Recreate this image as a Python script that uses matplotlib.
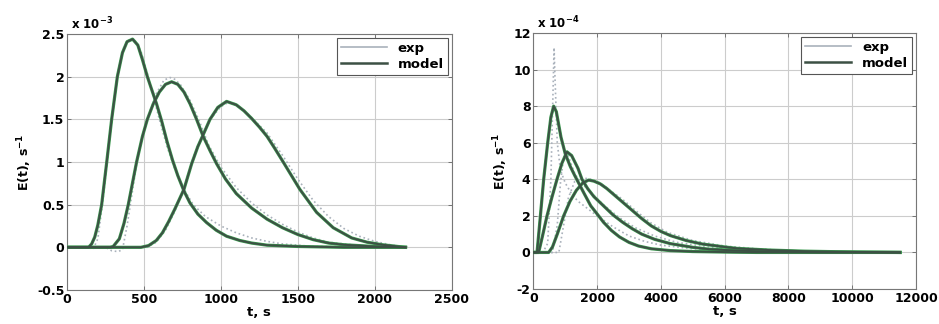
import numpy as np
import matplotlib
matplotlib.use("Agg")
from matplotlib import pyplot as plt
from matplotlib.ticker import FuncFormatter

plt.rcParams['font.family'] = ['DejaVu Sans']
plt.rcParams['axes.unicode_minus'] = False
plt.rcParams['mathtext.default'] = 'bf'

# ---- left panel, E(t) in 1e-3 s^-1 ----
tM1 = [0, 120, 140, 160, 180, 200, 225, 258, 290, 327, 360, 390, 426, 460, 490, 522, 550, 582, 615, 650, 686, 720, 760, 799, 850, 907, 970, 1037, 1123, 1200, 1300, 1500, 1800, 2200]
eM1 = [0, 0, 0.0, 0.04, 0.12, 0.26, 0.5, 1.0, 1.5, 2.0, 2.28, 2.41, 2.44, 2.37, 2.2, 2.0, 1.85, 1.68, 1.48, 1.24, 1.02, 0.84, 0.66, 0.52, 0.39, 0.29, 0.2, 0.13, 0.08, 0.05, 0.025, 0.01, 0, 0]
tM2 = [0, 280, 300, 340, 370, 398, 425, 452, 490, 522, 560, 600, 640, 680, 720, 760, 800, 842, 885, 930, 972, 1030, 1100, 1200, 1300, 1400, 1500, 1600, 1700, 1800, 2000, 2200]
eM2 = [0, 0, 0.01, 0.1, 0.28, 0.5, 0.75, 1.0, 1.3, 1.5, 1.68, 1.82, 1.91, 1.94, 1.91, 1.82, 1.68, 1.5, 1.3, 1.13, 0.98, 0.8, 0.63, 0.46, 0.33, 0.23, 0.15, 0.09, 0.05, 0.03, 0.01, 0]
tM3 = [0, 480, 530, 580, 620, 660, 701, 760, 810, 850, 885, 929, 980, 1037, 1100, 1150, 1200, 1250, 1300, 1350, 1405, 1513, 1622, 1730, 1850, 1950, 2050, 2200]
eM3 = [0, 0, 0.02, 0.08, 0.17, 0.3, 0.45, 0.68, 0.98, 1.18, 1.32, 1.5, 1.64, 1.71, 1.67, 1.6, 1.51, 1.41, 1.3, 1.16, 1.0, 0.68, 0.41, 0.23, 0.11, 0.06, 0.03, 0]

tX1 = [0, 130, 170, 200, 230, 260, 295, 330, 370, 410, 440, 480, 520, 560, 600, 650, 700, 760, 820, 900, 1000, 1100, 1200, 1300, 1400, 1600, 2200]
eX1 = [0, 0, -0.02, 0.1, 0.5, 1.0, 1.55, 2.05, 2.35, 2.45, 2.43, 2.3, 2.05, 1.78, 1.5, 1.18, 0.92, 0.68, 0.5, 0.36, 0.25, 0.17, 0.11, 0.07, 0.04, 0.01, 0]
tX2 = [0, 250, 290, 330, 360, 390, 420, 450, 490, 530, 580, 630, 670, 700, 740, 800, 860, 920, 1000, 1100, 1200, 1300, 1400, 1500, 1600, 1700, 1900, 2200]
eX2 = [0, 0, -0.04, -0.05, -0.03, 0.25, 0.6, 0.95, 1.3, 1.55, 1.8, 1.96, 1.99, 1.97, 1.9, 1.72, 1.48, 1.2, 0.94, 0.7, 0.52, 0.38, 0.27, 0.18, 0.11, 0.06, 0.02, 0]
tX3 = [0, 520, 580, 640, 700, 760, 820, 880, 940, 1000, 1050, 1100, 1200, 1300, 1400, 1500, 1600, 1700, 1800, 1900, 2000, 2100, 2200]
eX3 = [0, 0, 0.06, 0.2, 0.42, 0.7, 1.05, 1.32, 1.52, 1.65, 1.7, 1.68, 1.52, 1.34, 1.08, 0.8, 0.55, 0.36, 0.22, 0.13, 0.07, 0.03, 0]

# ---- right panel, E(t) in 1e-4 s^-1 ----
tMA = [0, 115, 200, 324, 450, 550, 637, 720, 867, 1000, 1159, 1300, 1420, 1600, 1800, 2047, 2200, 2450, 2700, 3000, 3300, 3700, 4300, 5000, 6000, 7000, 11500]
eMA = [0, 0, 1.6, 4.0, 6.0, 7.4, 8.0, 7.7, 6.3, 5.4, 4.7, 4.2, 3.8, 3.2, 2.55, 2.0, 1.65, 1.2, 0.85, 0.55, 0.35, 0.2, 0.1, 0.05, 0.02, 0, 0]
tMB = [0, 167, 300, 428, 580, 741, 900, 1055, 1200, 1400, 1525, 1700, 1900, 2200, 2500, 2800, 3100, 3400, 3800, 4300, 5000, 5500, 6400, 7500, 9000, 11500]
eMB = [0, 0, 1.0, 2.0, 3.0, 4.0, 4.9, 5.5, 5.3, 4.6, 4.0, 3.5, 3.05, 2.55, 2.05, 1.65, 1.3, 1.0, 0.72, 0.48, 0.28, 0.18, 0.1, 0.04, 0.01, 0]
tMC = [0, 480, 600, 750, 950, 1150, 1350, 1550, 1734, 1900, 2100, 2300, 2500, 2800, 3100, 3400, 3700, 4000, 4300, 4800, 5300, 6000, 6400, 7400, 8500, 9500, 10500, 11500]
eMC = [0, 0, 0.3, 1.0, 2.0, 2.8, 3.4, 3.8, 3.96, 3.9, 3.75, 3.5, 3.2, 2.75, 2.3, 1.85, 1.45, 1.15, 0.92, 0.65, 0.46, 0.3, 0.22, 0.13, 0.07, 0.04, 0.02, 0]

tXA = [0, 300, 450, 550, 620, 650, 680, 750, 850, 1000, 1200, 1400, 1700, 2000, 2500, 3000, 3500, 4000, 5000, 6000, 7000, 9000, 11500]
eXA = [0, 0, 0.5, 4, 9, 11.2, 9.5, 6, 4.5, 3.8, 3.2, 2.8, 2.4, 2.0, 1.4, 0.9, 0.6, 0.4, 0.2, 0.1, 0.05, 0.02, 0]
tXB = [0, 600, 750, 850, 950, 1050, 1150, 1300, 1500, 1800, 2200, 2700, 3200, 3800, 4500, 5500, 6500, 8000, 11500]
eXB = [0, 0, 1.5, 3.8, 5.2, 5.6, 5.0, 4.3, 3.8, 3.3, 2.6, 1.9, 1.35, 0.9, 0.55, 0.3, 0.15, 0.06, 0]
tXC = [0, 800, 900, 1000, 1100, 1300, 1500, 1800, 2100, 2400, 2800, 3200, 3700, 4200, 5000, 6000, 7000, 8000, 9000, 11500]
eXC = [0, 0, 1.0, 2.0, 3.0, 3.9, 4.1, 4.0, 3.8, 3.4, 2.9, 2.3, 1.6, 1.1, 0.65, 0.35, 0.2, 0.1, 0.05, 0]

expColor = '#a9b1bb'
modelColor = '#3c5044'
greenColor = '#3c9a50'


def drawPanel(ax, modelList, expList, xMax, xStep, yMin, yMax, yStep, exponent):
    for t, e in expList:
        ax.plot(t, e, color=expColor, linestyle=':', linewidth=1.2, zorder=2)
    for t, e in modelList:
        ax.plot(t, e, color=greenColor, linewidth=2.3, zorder=3)
        ax.plot(t, e, color=modelColor, linewidth=1.4, zorder=4)
    ax.set_xlim(0, xMax)
    ax.set_ylim(yMin, yMax)
    ax.set_xticks(np.arange(0, xMax + 1, xStep))
    ax.set_yticks(np.arange(yMin, yMax + 0.001, yStep))
    ax.xaxis.set_major_formatter(FuncFormatter(lambda v, p: '%g' % v))
    ax.yaxis.set_major_formatter(FuncFormatter(lambda v, p: '%g' % v))
    ax.tick_params(direction='in', top=True, right=True, length=3, width=0.6,
                   labelsize=9, pad=2, color='#666666')
    for lbl in ax.get_xticklabels() + ax.get_yticklabels():
        lbl.set_fontweight('bold')
    ax.grid(True, color='#cccccc', linestyle='-', linewidth=0.8)
    ax.set_axisbelow(True)
    for sp in ax.spines.values():
        sp.set_color('#777777')
        sp.set_linewidth(0.8)
    ax.set_xlabel('t, s', fontweight='bold', fontsize=9.5, labelpad=0)
    ax.set_ylabel('E(t), s$^{-1}$', fontweight='bold', fontsize=9, labelpad=2)
    ax.text(0.01, 1.005, 'x 10$^{%d}$' % exponent, transform=ax.transAxes,
            fontsize=8.5, fontweight='bold', va='bottom', ha='left')
    hExp, = ax.plot([], [], color=expColor, linewidth=1.2)
    hMod, = ax.plot([], [], color=modelColor, linewidth=1.8)
    leg = ax.legend([hExp, hMod], ['exp', 'model'], loc='upper right',
                    prop={'weight': 'bold', 'size': 9.5}, fancybox=False,
                    handlelength=3.5, borderpad=0.3, labelspacing=0.2,
                    borderaxespad=0.3, framealpha=1)
    leg.get_frame().set_edgecolor('#555555')
    leg.get_frame().set_linewidth(0.8)


fig = plt.figure(figsize=(9.39, 3.24), dpi=100)
axL = fig.add_axes([0.0714, 0.105, 0.4096, 0.79])
axR = fig.add_axes([0.568, 0.108, 0.4075, 0.79])

drawPanel(axL, [(tM1, eM1), (tM2, eM2), (tM3, eM3)],
          [(tX1, eX1), (tX2, eX2), (tX3, eX3)],
          2500, 500, -0.5, 2.5, 0.5, -3)
drawPanel(axR, [(tMA, eMA), (tMB, eMB), (tMC, eMC)],
          [(tXA, eXA), (tXB, eXB), (tXC, eXC)],
          12000, 2000, -2, 12, 2, -4)

fig.savefig('out.png', dpi=100)
